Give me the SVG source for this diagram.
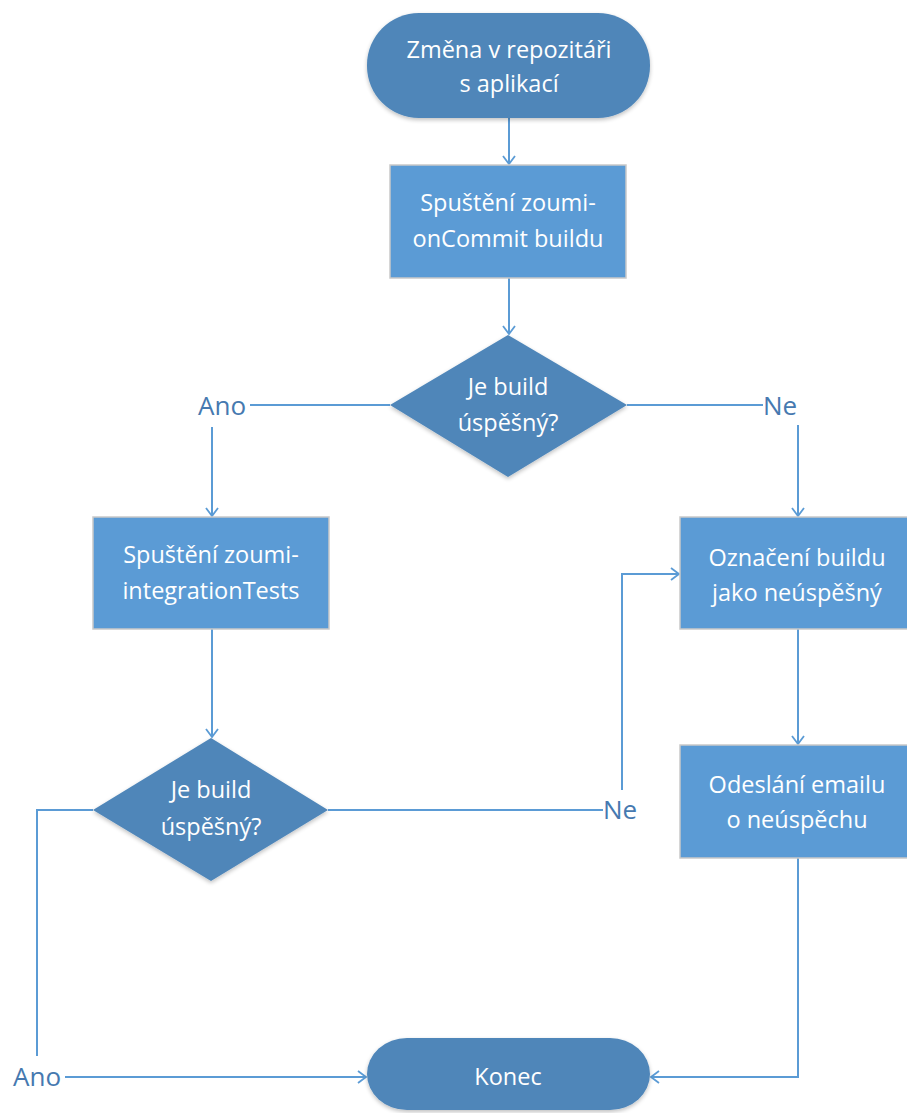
<svg xmlns="http://www.w3.org/2000/svg" width="907" height="1113" viewBox="0 0 907 1113">
<style>
.term{fill:#4F86B9;}
.dia{fill:#4F86B9;}
.box{fill:#5B9BD5;stroke:#C9C9C9;stroke-width:1.5;}
.t{font-family:"Open Sans","Noto Sans",sans-serif;font-size:23.5px;fill:#FFFFFF;text-anchor:middle;}
.lbl{font-family:"Open Sans","Noto Sans",sans-serif;font-size:26px;fill:#4679B0;}
.c{fill:none;stroke:#5B9BD5;stroke-width:2;}
</style>
<defs>
<marker id="arr" viewBox="0 0 14 14" refX="10" refY="7" markerWidth="14" markerHeight="14" markerUnits="userSpaceOnUse" orient="auto">
<path d="M2,1 L10,7 L2,13" fill="none" stroke="#5B9BD5" stroke-width="1.8"/>
</marker>
<filter id="sh" x="-10%" y="-10%" width="120%" height="130%">
<feGaussianBlur in="SourceAlpha" stdDeviation="2"/>
<feOffset dx="0" dy="2" result="b"/>
<feComponentTransfer><feFuncA type="linear" slope="0.25"/></feComponentTransfer>
<feMerge><feMergeNode/><feMergeNode in="SourceGraphic"/></feMerge>
</filter>
</defs>
<rect width="907" height="1113" fill="#FFFFFF"/>
<g id="connectors">
<path class="c" d="M509,118 L509,164" marker-end="url(#arr)"/>
<path class="c" d="M509,278 L509,334" marker-end="url(#arr)"/>
<path class="c" d="M390,405 L250,405"/>
<path class="c" d="M212,427 L212,516" marker-end="url(#arr)"/>
<path class="c" d="M627,405 L763,405"/>
<path class="c" d="M798,425 L798,516" marker-end="url(#arr)"/>
<path class="c" d="M212,629 L212,737" marker-end="url(#arr)"/>
<path class="c" d="M328,810 L603,810"/>
<path class="c" d="M622,790 L622,574 L679,574" marker-end="url(#arr)"/>
<path class="c" d="M798,629 L798,744" marker-end="url(#arr)"/>
<path class="c" d="M93,810 L37,810 L37,1056"/>
<path class="c" d="M65,1077 L366,1077" marker-end="url(#arr)"/>
<path class="c" d="M798,858 L798,1077 L651,1077" marker-end="url(#arr)"/>
</g>
<g id="labels">
<text class="lbl" x="198" y="415">Ano</text>
<text class="lbl" x="763" y="415">Ne</text>
<text class="lbl" x="603" y="819">Ne</text>
<text class="lbl" x="13" y="1086">Ano</text>
</g>
<g id="start">
<rect class="term" x="367" y="13" width="283" height="105" rx="52" ry="52" filter="url(#sh)"/>
<text class="t" x="509" y="58">Změna v repozitáři</text>
<text class="t" x="509" y="92">s aplikací</text>
</g>
<g id="build-oncommit">
<rect class="box" x="390" y="165" width="236" height="113"/>
<text class="t" x="508" y="211">Spuštění zoumi-</text>
<text class="t" x="508" y="247">onCommit buildu</text>
</g>
<g id="decision1">
<polygon class="dia" points="508,335 627,405 508,477 390,405" filter="url(#sh)"/>
<text class="t" x="508" y="395">Je build</text>
<text class="t" x="508" y="431">úspěšný?</text>
</g>
<g id="integration-tests">
<rect class="box" x="93" y="517" width="236" height="112"/>
<text class="t" x="211" y="563">Spuštění zoumi-</text>
<text class="t" x="211" y="599">integrationTests</text>
</g>
<g id="mark-failed">
<rect class="box" x="680" y="517" width="236" height="112"/>
<text class="t" x="797" y="566">Označení buildu</text>
<text class="t" x="797" y="601">jako neúspěšný</text>
</g>
<g id="decision2">
<polygon class="dia" points="211,738 328,810 211,881 93,810" filter="url(#sh)"/>
<text class="t" x="211" y="798">Je build</text>
<text class="t" x="211" y="835">úspěšný?</text>
</g>
<g id="send-email">
<rect class="box" x="680" y="745" width="236" height="113"/>
<text class="t" x="797" y="793">Odeslání emailu</text>
<text class="t" x="797" y="828">o neúspěchu</text>
</g>
<g id="end">
<rect class="term" x="367" y="1038" width="283" height="72" rx="40" ry="40" filter="url(#sh)"/>
<text class="t" x="508" y="1085">Konec</text>
</g>
</svg>
